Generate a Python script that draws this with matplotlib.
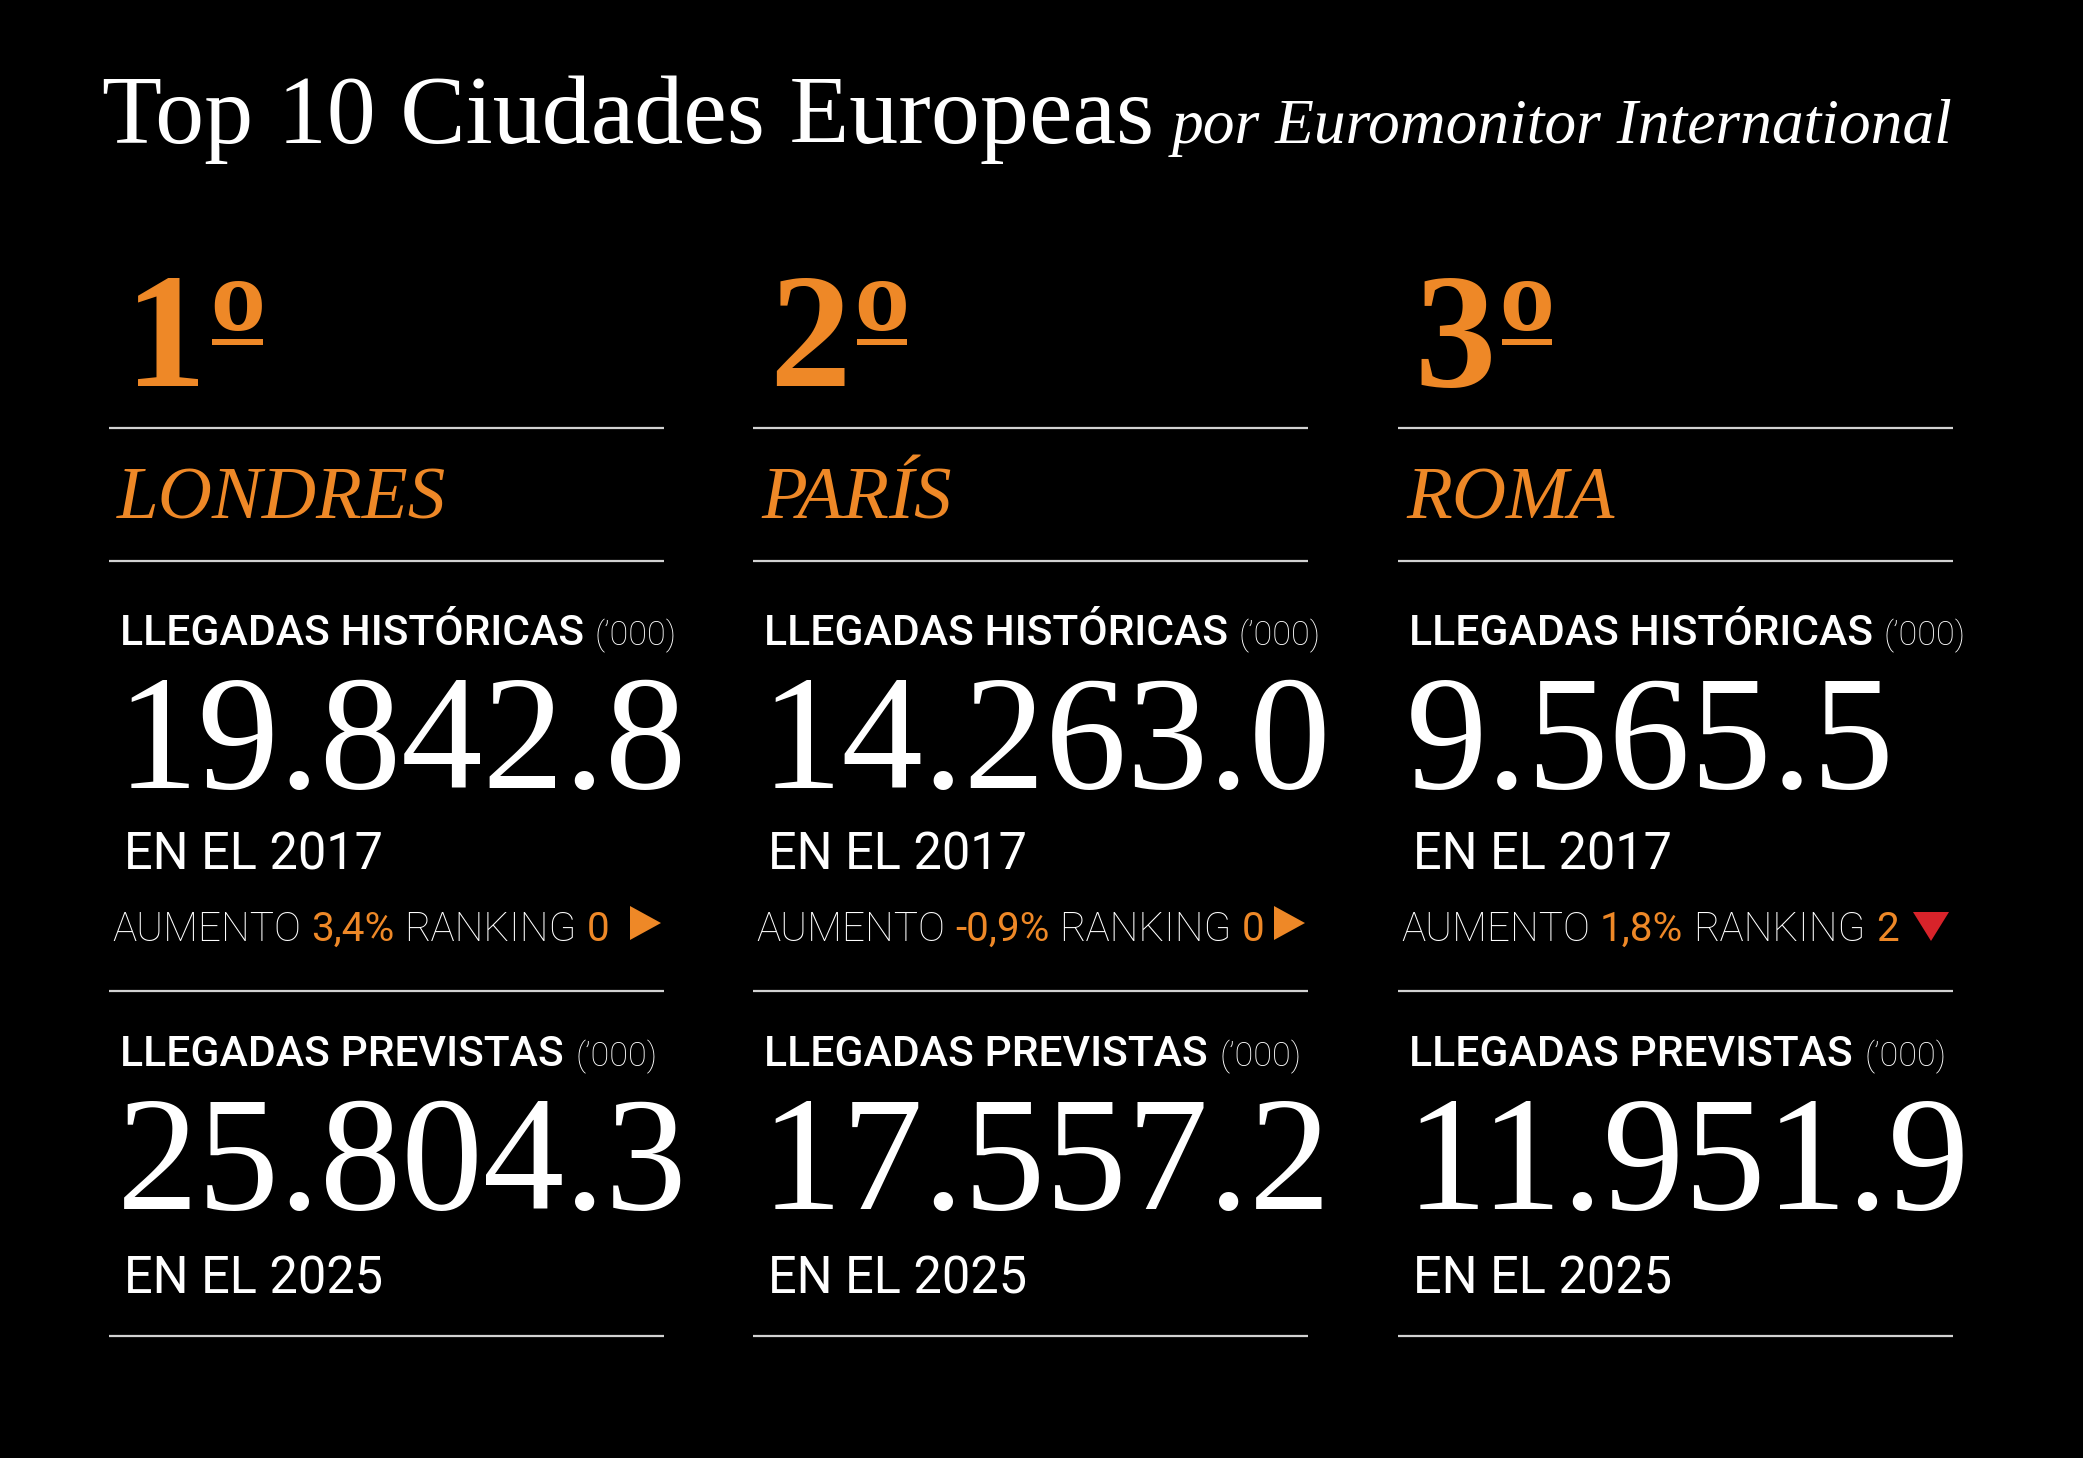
import matplotlib
matplotlib.use("Agg")
import matplotlib.pyplot as plt
from matplotlib.patches import Polygon, Rectangle

# ---------------- data ----------------
rank_numbers = ["1", "2", "3"]
ordinal_mark = "º"
cities = ["LONDRES", "PARÍS", "ROMA"]
arrivals_2017 = [19842.8, 14263.0, 9565.5]
arrivals_2025 = [25804.3, 17557.2, 11951.9]
growth_pct = [3.4, -0.9, 1.8]
ranking_change = [0, 0, 2]
ranking_dir = ["same", "same", "down"]
year_hist = 2017
year_fcst = 2025
title = "Top 10 Ciudades Europeas"
subtitle = "por Euromonitor International"
label_hist = "LLEGADAS HISTÓRICAS"
label_fcst = "LLEGADAS PREVISTAS"
unit = "(’000)"

# ---------------- style ----------------
SERIF = ["Liberation Serif", "DejaVu Serif"]
SANS = ["Roboto", "DejaVu Sans"]
ORANGE = "#EE8827"
RED = "#D8232A"
LINE = "#D2D2D2"
W, H = 2083, 1458


def fmt_num(v):
    return f"{v:,.1f}".replace(",", ".")


def fmt_pct(g):
    return f"{g:.1f}".replace(".", ",") + "%"


fig = plt.figure(figsize=(W / 100, H / 100), dpi=100, facecolor="black")
ax = fig.add_axes([0, 0, 1, 1])
ax.set_xlim(0, W)
ax.set_ylim(H, 0)
ax.axis("off")
ax.set_facecolor("black")
renderer = fig.canvas.get_renderer()


def pt(px):
    return px * 72 / 100


def put(x, y, s, size_px, family, color, weight="normal", style="normal",
        target_w=None, ha="left", va="baseline"):
    t = ax.text(x, y, s, fontsize=pt(size_px), family=family, color=color,
                weight=weight, style=style, va=va, ha=ha)
    if target_w:
        w = t.get_window_extent(renderer).width
        t.set_fontsize(t.get_fontsize() * target_w / w)
    return t


def ext(t):
    return t.get_window_extent(renderer)


# title
tt = put(102, 143, title, 104, SERIF, "white", target_w=1052)
put(ext(tt).x1 + 18, 143, subtitle, 61, SERIF, "white", style="italic",
    target_w=782)

col_left = [109, 753, 1398]
col_w = 555
line_y = [428, 561, 991, 1336]

# reference size for labels
probe = ax.text(0, 0, label_hist, fontsize=pt(44), family=SANS,
                weight="medium")
lab_size = probe.get_fontsize() * 465 / probe.get_window_extent(renderer).width
probe.remove()

for i in range(3):
    L = col_left[i]
    R = L + col_w
    for y in line_y:
        ax.plot([L, R], [y, y], color=LINE, lw=1.6, solid_capstyle="butt")

    # rank with ordinal mark and its underline
    d = put(L + 16, 386, rank_numbers[i], 163, SERIF, ORANGE, weight="bold")
    dx = ext(d).x1 + 3
    o = put(dx, 277, ordinal_mark, 172, SERIF, ORANGE, weight="bold",
            va="top")
    oe = ext(o)
    ax.add_patch(Rectangle((oe.x0 + 3, 339), oe.width - 6, 6,
                           facecolor=ORANGE, edgecolor="none"))

    put(L + 8, 518, cities[i], 75, SERIF, ORANGE, style="italic")

    # historical block
    t = ax.text(L + 11, 645, label_hist, fontsize=lab_size, family=SANS,
                color="white", weight="medium", va="baseline")
    put(ext(t).x1 + 10, 645, unit, 34, SANS, "white", weight="light")
    put(L + 8, 788, fmt_num(arrivals_2017[i]), 163, SERIF, "white")
    put(L + 15, 869, f"EN EL {year_hist}", 50.5, SANS, "white")

    # growth / ranking line
    fs = 40.5
    gap = 10
    segs = [("AUMENTO", "white", "light"),
            (fmt_pct(growth_pct[i]), ORANGE, "normal"),
            ("RANKING", "white", "light"),
            (str(ranking_change[i]), ORANGE, "normal")]
    x = L + 3
    for s, c, wgt in segs:
        t = put(x, 941, s, fs, SANS, c, weight=wgt)
        x = ext(t).x1 + gap

    if ranking_dir[i] == "down":
        tri = [(R - 40, 912), (R - 4, 912), (R - 22, 941)]
        col = RED
    else:
        tri = [(R - 34, 906), (R - 34, 940), (R - 3, 923)]
        col = ORANGE
    ax.add_patch(Polygon(tri, closed=True, facecolor=col, edgecolor="none"))

    # forecast block
    t = ax.text(L + 11, 1066, label_fcst, fontsize=lab_size, family=SANS,
                color="white", weight="medium", va="baseline")
    put(ext(t).x1 + 12, 1066, unit, 34, SANS, "white", weight="light")
    put(L + 8, 1209, fmt_num(arrivals_2025[i]), 163, SERIF, "white")
    put(L + 15, 1293, f"EN EL {year_fcst}", 50.5, SANS, "white")

fig.savefig("out.png", dpi=100, facecolor="black")
